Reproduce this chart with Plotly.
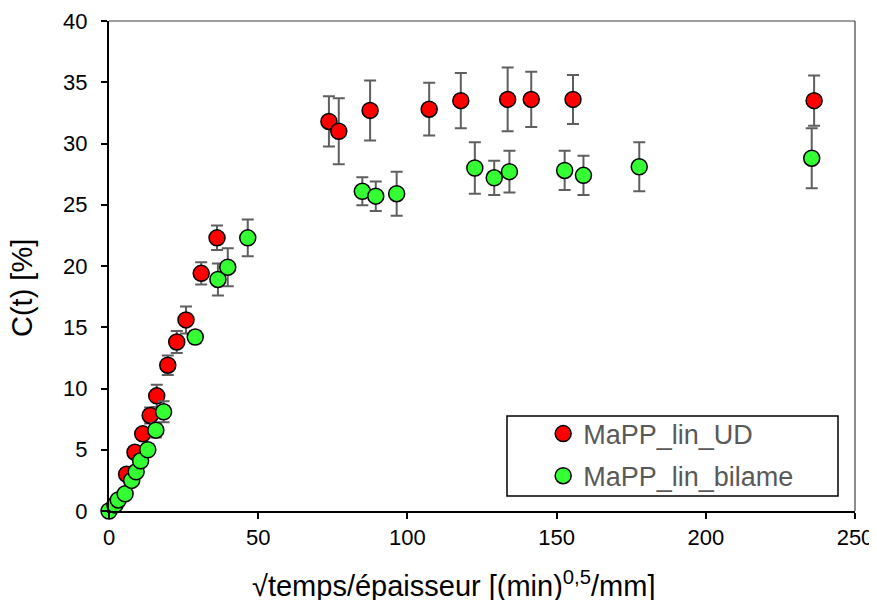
import plotly.graph_objects as go

# ---- data ----
ud_x = [5.9, 8.7, 11.3, 13.8, 16.0, 19.7, 22.7, 25.8, 30.9, 36.2, 73.7, 77.0, 87.5, 107.3, 117.9, 133.6, 141.5, 155.5, 236.3]
ud_y = [3.0, 4.8, 6.3, 7.8, 9.4, 11.9, 13.8, 15.6, 19.4, 22.3, 31.8, 31.0, 32.7, 32.8, 33.5, 33.6, 33.6, 33.6, 33.5]
ud_err = [0.3, 0.4, 0.4, 0.65, 0.9, 0.8, 0.9, 1.1, 0.9, 1.0, 2.05, 2.7, 2.45, 2.15, 2.25, 2.6, 2.25, 2.0, 2.05]

bi_x = [0, 2.0, 3.1, 5.4, 7.6, 9.1, 10.6, 13.0, 15.7, 18.3, 28.9, 36.5, 39.8, 46.5, 84.9, 89.4, 96.4, 122.6, 129.1, 134.2, 152.7, 159.0, 177.7, 235.5]
bi_y = [0, 0.5, 0.9, 1.4, 2.5, 3.2, 4.1, 5.0, 6.6, 8.1, 14.2, 18.9, 19.9, 22.3, 26.1, 25.7, 25.9, 28.0, 27.2, 27.7, 27.8, 27.4, 28.1, 28.8]
bi_err = [0, 0.1, 0.2, 0.2, 0.3, 0.3, 0.4, 0.4, 0.6, 0.85, 0.5, 1.3, 1.55, 1.5, 1.15, 1.2, 1.8, 2.1, 1.4, 1.7, 1.6, 1.6, 2.0, 2.45]

names = ["MaPP_lin_UD", "MaPP_lin_bilame"]
x_title = "√temps/épaisseur [(min)<sup>0,5</sup>/mm]"
y_title = "C(t) [%]"

FONT = "Liberation Sans, Arial, sans-serif"
ERR_COL = "#5f5f5f"

fig = go.Figure()
for i, (xs, ys, es, name, col) in enumerate([(ud_x, ud_y, ud_err, names[0], "#ff0000"),
                                             (bi_x, bi_y, bi_err, names[1], "#33ff33")]):
    fig.add_trace(go.Scatter(
        x=xs, y=ys, mode="markers", name=name, legendgroup="g%d" % i,
        marker=dict(size=16, color=col, line=dict(color="black", width=1.5)),
        error_y=dict(type="data", array=es, visible=True, color=ERR_COL,
                     thickness=2, width=6),
        cliponaxis=False,
    ))

# the page body adds an 8px offset, margins compensate for it
fig.update_layout(
    width=877, height=600,
    margin=dict(l=101, r=30, t=13, b=97, autoexpand=False),
    paper_bgcolor="white", plot_bgcolor="white",
    font=dict(family=FONT, size=22, color="black"),
    showlegend=True,
    legend=dict(x=0.582, y=0.207, xanchor="left", yanchor="top",
                bgcolor="rgba(0,0,0,0)", borderwidth=0,
                font=dict(family=FONT, size=27, color="#595959"),
                tracegroupgap=4),
    xaxis=dict(range=[0, 250], dtick=50, tick0=0, showgrid=False, zeroline=False,
               showline=True, linecolor="black", linewidth=2,
               ticks="outside", ticklen=6, tickwidth=1.5, tickcolor="black",
               tickfont=dict(family=FONT, size=22, color="black")),
    yaxis=dict(range=[0, 40], dtick=5, tick0=0, showgrid=False, zeroline=False,
               showline=True, linecolor="black", linewidth=2,
               ticks="outside", ticklen=6, tickwidth=1.5, tickcolor="black",
               ticklabelstandoff=9,
               tickfont=dict(family=FONT, size=22, color="black")),
    shapes=[
        dict(type="line", xref="paper", yref="paper", x0=0, x1=1, y0=1, y1=1,
             line=dict(color="#404040", width=1.2)),
        dict(type="line", xref="paper", yref="paper", x0=1, x1=1, y0=0, y1=1,
             line=dict(color="#404040", width=1.2)),
        dict(type="rect", xref="paper", yref="paper",
             x0=(507 - 109) / 746, x1=(838 - 109) / 746,
             y0=(511 - 496) / 490, y1=(511 - 416) / 490,
             line=dict(color="black", width=1.5), fillcolor="rgba(0,0,0,0)"),
    ],
    annotations=[
        dict(text=y_title, xref="paper", yref="paper", x=(22 - 109) / 746,
             y=(511 - 288) / 490, showarrow=False, textangle=-90,
             font=dict(family=FONT, size=29, color="black"),
             xanchor="center", yanchor="middle"),
        dict(text=x_title, xref="paper", yref="paper", x=(453 - 109) / 746,
             y=(511 - 584) / 490, showarrow=False,
             font=dict(family=FONT, size=29, color="black"),
             xanchor="center", yanchor="middle"),
    ],
)

fig.write_html("out.html")
